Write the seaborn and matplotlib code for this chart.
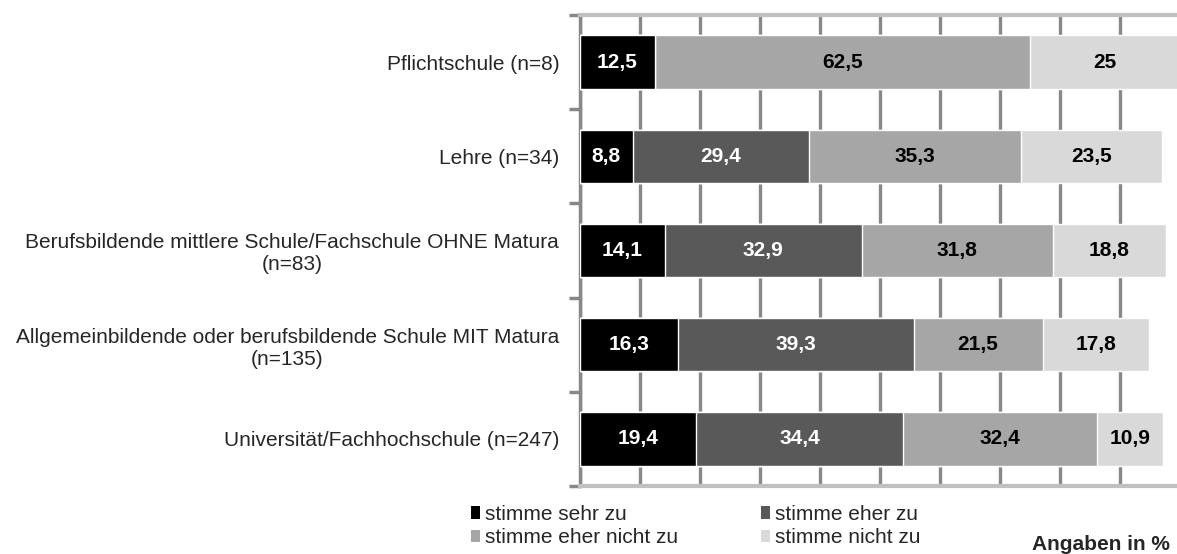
import matplotlib
matplotlib.use("Agg")
import matplotlib.pyplot as plt
from matplotlib.patches import Patch
import numpy as np
import pandas as pd
import seaborn as sns

categories = [
    "Pflichtschule (n=8)",
    "Lehre (n=34)",
    "Berufsbildende mittlere Schule/Fachschule OHNE Matura\n(n=83)",
    "Allgemeinbildende oder berufsbildende Schule MIT Matura\n(n=135)",
    "Universität/Fachhochschule (n=247)",
]
series_names = ["stimme sehr zu", "stimme eher zu", "stimme eher nicht zu", "stimme nicht zu"]
sehr_zu = [12.5, 8.8, 14.1, 16.3, 19.4]
eher_zu = [0.0, 29.4, 32.9, 39.3, 34.4]
eher_nicht_zu = [62.5, 35.3, 31.8, 21.5, 32.4]
nicht_zu = [25.0, 23.5, 18.8, 17.8, 10.9]
value_labels = [
    ["12,5", "8,8", "14,1", "16,3", "19,4"],
    ["", "29,4", "32,9", "39,3", "34,4"],
    ["62,5", "35,3", "31,8", "21,5", "32,4"],
    ["25", "23,5", "18,8", "17,8", "10,9"],
]
colors = ["#000000", "#595959", "#a6a6a6", "#d9d9d9"]
text_colors = ["white", "white", "black", "black"]

sns.set_theme(style="white")
plt.rcParams["font.family"] = ["Liberation Sans", "DejaVu Sans"]

values = np.array([sehr_zu, eher_zu, eher_nicht_zu, nicht_zu])
cum = np.cumsum(values, axis=0)

fig = plt.figure(figsize=(11.77, 5.54), dpi=100)
ax = fig.add_axes([580 / 1177, 68 / 554, 600 / 1177, 471 / 554])

# draw cumulative totals from largest to smallest so the stack shows
for k in range(3, -1, -1):
    df = pd.DataFrame({"cat": categories, "val": cum[k]})
    sns.barplot(data=df, x="val", y="cat", orient="h", color=colors[k],
                width=0.565, saturation=1, ax=ax, zorder=3)

for k in range(4):
    for i in range(len(categories)):
        v = values[k][i]
        if v <= 0:
            continue
        xc = cum[k][i] - v / 2
        ax.text(xc, i, value_labels[k][i], ha="center", va="center",
                color=text_colors[k], fontsize=15, fontweight="bold", zorder=5)

ax.set_xlim(0, 100)
ax.set_ylim(4.5, -0.5)
ax.set_xticks(np.arange(0, 101, 10))
ax.set_xticklabels([])
ax.tick_params(axis="x", length=0)
ax.xaxis.grid(True, color="#888888", linewidth=2.4, zorder=0)
ax.set_axisbelow(True)
ax.set_xlabel("")
ax.set_ylabel("")

ax.set_yticks(np.arange(5))
ax.set_yticklabels(categories, fontsize=15)
ax.set_yticks(np.arange(-0.5, 5, 1), minor=True)
ax.tick_params(axis="y", which="major", length=0, pad=15)
ax.tick_params(axis="y", which="minor", length=8, width=2.5, color="#888888", left=True)
for t in ax.get_yticklabels():
    t.set_multialignment("center")

ax.spines["right"].set_visible(False)
ax.spines["left"].set_color("#888888")
ax.spines["left"].set_linewidth(2.5)
for s in ["top", "bottom"]:
    ax.spines[s].set_color("#c0c0c0")
    ax.spines[s].set_linewidth(3)

handles = [Patch(facecolor=colors[k], edgecolor="none", label=series_names[k]) for k in [0, 2, 1, 3]]
fig.legend(handles=handles, loc="upper left", bbox_to_anchor=(471 / 1177, 1 - 505 / 554),
           ncol=2, frameon=False, fontsize=15, handlelength=0.45, handleheight=0.55,
           handletextpad=0.2, columnspacing=4.0, labelspacing=0.2, borderpad=0,
           borderaxespad=0)

fig.text(1170 / 1177, 1 - 545 / 554, "Angaben in %", ha="right", va="center",
         fontsize=15, fontweight="bold")

fig.savefig("out.png", dpi=100)
